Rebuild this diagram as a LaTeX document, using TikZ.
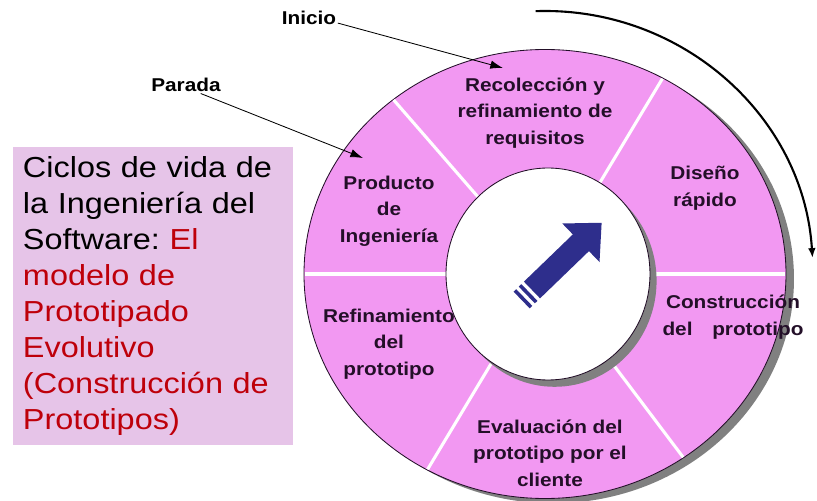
\documentclass[tikz,border=0pt]{standalone}
\usepackage{fontspec}
\setmainfont{Liberation Sans}[FakeStretch=1.12]
\usepackage{tikz}
\usetikzlibrary{shapes,arrows.meta,positioning}

\definecolor{ringpink}{RGB}{242,152,242}
\definecolor{boxlilac}{RGB}{230,196,232}
\definecolor{titlered}{RGB}{190,0,10}
\definecolor{arrowblue}{RGB}{46,46,140}
\definecolor{shadowgray}{RGB}{128,128,128}
\definecolor{labeltext}{RGB}{35,15,40}

\begin{document}
\begin{tikzpicture}[
    phase/.style={align=center,text=labeltext,font=\bfseries\fontsize{13.2}{18.9}\selectfont},
    marker/.style={font=\bfseries\fontsize{13.2}{16}\selectfont,inner sep=1pt},
    pointer/.style={-{Latex[length=9pt,width=6pt]},line width=0.6pt},
    divider/.style={white,line width=2.2pt,shorten >=0.7pt}
]
    \useasboundingbox (-13.625,-5.675) rectangle (6.8,6.85);

    % Title box
    \node[fill=boxlilac,minimum width=7cm,minimum height=7.45cm,text width=6.5cm,inner xsep=0.25cm,align=left,font=\fontsize{20.6}{25.6}\selectfont] (title) at (-9.8,-0.55) {Ciclos de vida de\\la Ingeniería del\\Software:\ {\color{titlered}El\\modelo de\\Prototipado\\Evolutivo\\(Construcción de\\Prototipos)}};

    % Outer ring
    \fill[shadowgray] (0.2,-0.12) ellipse [x radius=6.025cm,y radius=5.6125cm];
    \node[ellipse,draw=labeltext,fill=ringpink,line width=0.6pt,minimum width=12.05cm,minimum height=11.225cm] (ring) at (0,0) {};

    % Dividers between phases
    \foreach \a in {131,59,0,-53.4,-121.9,180}
        \draw[divider] (0,0) -- (ring.\a);

    % Phases
    \node[phase] (recoleccion) at (-0.25,4.025) {Recolección y\\refinamiento de\\requisitos};
    \node[phase] (diseno) at (4.0,2.15) {Diseño\\rápido};
    \node[phase] (construccion) at (4.7,-1.075) {Construcción\\del\hspace{0.75em} prototipo};
    \node[phase] (evaluacion) at (0.125,-4.475) {Evaluación del\\prototipo por el\\cliente};
    \node[phase] (refinamiento) at (-3.9,-1.75) {Refinamiento\\del\\prototipo};
    \node[phase] (producto) at (-3.9,1.575) {Producto\\de\\Ingeniería};

    % Hub
    \fill[shadowgray] (0.24,-0.17) ellipse [x radius=2.55cm,y radius=2.65cm];
    \node[ellipse,draw=labeltext,fill=white,line width=0.6pt,minimum width=5.1cm,minimum height=5.3cm] (hub) at (0.075,0) {};

    % Center arrow
    \begin{scope}[shift={(-0.325,-0.4)},rotate=44,arrowblue]
        \fill (0,-0.29) -- (1.7,-0.29) -- (1.7,-0.67) -- (2.42,0) -- (1.7,0.67) -- (1.7,0.29) -- (0,0.29) -- cycle;
        \fill (-0.18,-0.29) rectangle (-0.09,0.29);
        \fill (-0.36,-0.29) rectangle (-0.27,0.29);
    \end{scope}

    % Cycle direction
    \coordinate (arcstart) at (92:6.7 and 6.575);
    \draw[-{Latex[length=7pt,width=5.5pt]},line width=1.5pt] (arcstart) arc[start angle=92,end angle=3.5,x radius=6.7,y radius=6.575];

    % Start and stop
    \node[marker] (inicio) at (-5.9,6.4) {Inicio};
    \node[marker] (parada) at (-8.975,4.725) {Parada};
    \coordinate (inicioend) at (-1.05,5.15);
    \coordinate (paradaend) at (-4.55,2.9);
    \draw[pointer] (inicio.-10) -- (inicioend);
    \draw[pointer] (parada.-30) -- (paradaend);
\end{tikzpicture}
\end{document}
